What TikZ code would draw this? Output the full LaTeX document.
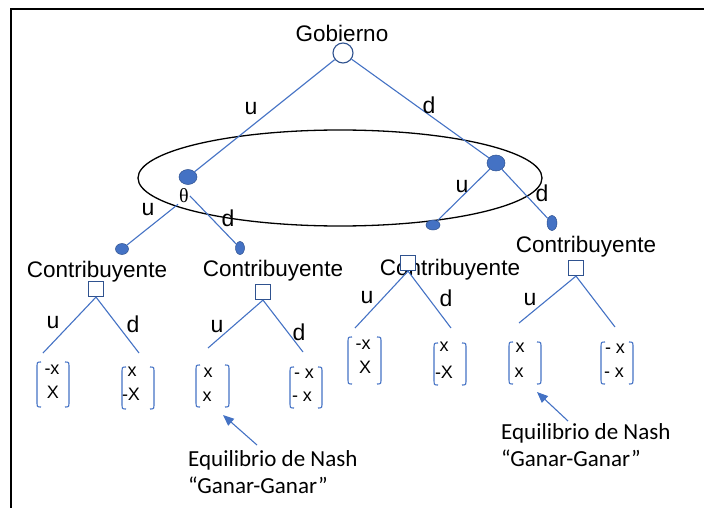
\documentclass[tikz,border=0pt]{standalone}
\usepackage{fontspec}
\setmainfont{Liberation Sans}
\newfontfamily\calfont{Carlito}
\newfontfamily\serfont{Liberation Serif}
\usetikzlibrary{shapes.geometric,arrows.meta}
\definecolor{lblue}{HTML}{4472C4}
\definecolor{dblue}{HTML}{2F528F}
\newcommand\brkpair[4]{%
  \draw[brk] (#1+5,#3) .. controls (#1+1,#3) .. (#1+1,#3+6) -- (#1+1,#4-6) .. controls (#1+1,#4) .. (#1+5,#4);
  \draw[brk] (#2-5,#3) .. controls (#2-1,#3) .. (#2-1,#3+6) -- (#2-1,#4-6) .. controls (#2-1,#4) .. (#2-5,#4);
}
\begin{document}
\begin{tikzpicture}[x=1pt,y=-1pt,
  edge/.style={draw=lblue,line width=1.1pt},
  dot/.style={ellipse,fill=lblue,draw=dblue,line width=0.5pt,inner sep=0pt},
  sq/.style={rectangle,draw=dblue,fill=white,line width=1.2pt,minimum size=15pt,inner sep=0pt},
  lab/.style={font=\fontsize{23}{26}\selectfont,inner sep=0pt},
  player/.style={font=\fontsize{22.5}{26}\selectfont,inner sep=0pt,anchor=base},
  pay/.style={font=\fontsize{18}{21}\selectfont,inner sep=0pt},
  brk/.style={draw=lblue,line width=1.1pt},
  note/.style={font=\calfont\fontsize{23}{27}\selectfont,inner sep=0pt,anchor=base west}
]
\useasboundingbox (0,0) rectangle (704,508);
% frame
\draw[line width=2pt] (11,508) -- (11,9) -- (704,9);

% information set
\node[ellipse,draw=black,line width=1.3pt,minimum width=404pt,minimum height=96pt,inner sep=0pt] (info) at (340,178) {};

% texts
\node[player] (gob) at (342,42) {Gobierno};
\node[player] (c1) at (97,277) {Contribuyente};
\node[player] (c2) at (273,276) {Contribuyente};
\node[player] (c3) at (450,275) {Contribuyente};
\node[player] (c4) at (586,252) {Contribuyente};

% nodes
\node[circle,draw=dblue,fill=white,line width=1.1pt,minimum size=20pt,inner sep=0pt] (root) at (343,53) {};
\node[dot,minimum width=18pt,minimum height=15pt] (L) at (188,177) {};
\node[dot,minimum width=18pt,minimum height=16pt] (R) at (496,163) {};
\node[font=\serfont\fontsize{20}{22}\selectfont,inner sep=1pt] (theta) at (184,196) {θ};
\node[dot,minimum width=13pt,minimum height=11pt] (LL) at (122,249) {};
\node[dot,minimum width=9pt,minimum height=13pt] (LR) at (240,248) {};
\node[dot,minimum width=14pt,minimum height=10pt] (RL) at (433,225) {};
\node[dot,minimum width=10pt,minimum height=15pt] (RR) at (552,223) {};

% edges top
\draw[edge] (root) -- (L);
\draw[edge] (root) -- (R);
\draw[edge] (theta.south west) -- (LL);
\draw[edge] (theta.east) -- (LR);
\draw[edge] (R) -- (RL);
\draw[edge] (R) -- (RR);

% labels top
\node[lab] (lu0) at (251,109) {u};
\node[lab] (ld0) at (429,105) {d};
\node[lab] (lu1) at (148,210) {u};
\node[lab] (ld1) at (228,218) {d};
\node[lab] (lu2) at (462,187) {u};
\node[lab] (ld2) at (542,193) {d};

% leaf coordinates
\coordinate (a1) at (43,353);  \coordinate (b1) at (139,353);
\coordinate (a2) at (208,348); \coordinate (b2) at (303,352);
\coordinate (a3) at (355,328); \coordinate (b3) at (451,328);
\coordinate (a4) at (519,323); \coordinate (b4) at (615,327);

% squares
\node[sq] (S1) at (96,289) {};
\node[sq] (S2) at (263,292) {};
\node[sq] (S3) at (408,263) {};
\node[sq] (S4) at (576,268) {};
\draw[edge] (S1.south) -- (a1);
\draw[edge] (S1.south) -- (b1);
\draw[edge] (S2.south) -- (a2);
\draw[edge] (S2.south) -- (b2);
\draw[edge] (S3.south) -- (a3);
\draw[edge] (S3.south) -- (b3);
\draw[edge] (S4.south) -- (a4);
\draw[edge] (S4.south) -- (b4);

% labels bottom
\node[lab] (u1) at (53,323) {u};
\node[lab] (d1) at (133,324) {d};
\node[lab] (u2) at (217,327) {u};
\node[lab] (d2) at (299,332) {d};
\node[lab] (u3) at (367,298) {u};
\node[lab] (d3) at (446,298) {d};
\node[lab] (u4) at (530,300) {u};

% payoffs
\brkpair{36}{70}{362}{407}
\node[pay] (p1a) at (52,370) {-x};
\node[pay] (p1b) at (53,392) {X};
\brkpair{121}{155}{367}{409}
\node[pay] (p2a) at (132,372) {x};
\node[pay] (p2b) at (131,394) {-X};
\brkpair{195}{230}{365}{407}
\node[pay] (p3a) at (208,373) {x};
\node[pay] (p3b) at (207,397) {x};
\brkpair{289}{323}{367}{408}
\node[pay] (p4a) at (304,374) {- x};
\node[pay] (p4b) at (302,397) {- x};
\brkpair{347}{382}{337}{384}
\node[pay] (p5a) at (363,345) {-x};
\node[pay] (p5b) at (365,367) {X};
\brkpair{433}{467}{343}{385}
\node[pay] (p6a) at (444,347) {x};
\node[pay] (p6b) at (444,372) {-X};
\brkpair{508}{542}{342}{384}
\node[pay] (p7a) at (520,348) {x};
\node[pay] (p7b) at (519,373) {x};
\brkpair{600}{634}{342}{384}
\node[pay] (p8a) at (615,349) {- x};
\node[pay] (p8b) at (614,373) {- x};

% notes
\node[note] (n1a) at (188,466) {Equilibrio de Nash};
\node[note] (n1b) at (188,493) {“Ganar-Ganar”};
\node[note] (n2a) at (501,439) {Equilibrio de Nash};
\node[note] (n2b) at (501,466) {“Ganar-Ganar”};
\coordinate (t1) at (257,445); \coordinate (h1) at (223,415);
\coordinate (t2) at (568,421); \coordinate (h2) at (537,392);
\draw[edge,-{Triangle[length=11pt,width=9pt]}] (t1) -- (h1);
\draw[edge,-{Triangle[length=11pt,width=9pt]}] (t2) -- (h2);
\end{tikzpicture}
\end{document}
